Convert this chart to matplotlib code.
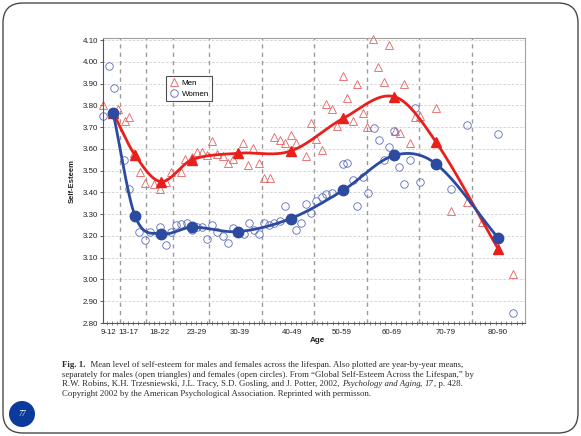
import numpy as np
import matplotlib
matplotlib.use("Agg")
import matplotlib.pyplot as plt
from matplotlib.patches import FancyBboxPatch, Circle
from matplotlib.lines import Line2D

# ---------------- data ----------------
group_labels = ["9-12", "13-17", "18-22", "23-29", "30-39", "40-49",
                "50-59", "60-69", "70-79", "80-90"]
label_ages = [10.4, 14.2, 20.1, 27.2, 35.3, 45.2, 54.8, 64.3, 74.4, 84.3]
group_bounds = [12.5, 17.5, 22.5, 29.5, 39.5, 49.5, 59.5, 69.5, 79.5]

mean_ages = [11.2, 15.4, 20.3, 26.2, 35.0, 45.0, 55.0, 64.7, 72.7, 84.5]
men_means = [3.765, 3.57, 3.45, 3.55, 3.58, 3.59, 3.74, 3.84, 3.63, 3.14]
women_means = [3.765, 3.29, 3.21, 3.24, 3.22, 3.28, 3.41, 3.57, 3.53, 3.19]

men_year_age = [9.3, 12.2, 13.5, 14.3, 15.2, 16.3, 17.3, 18.9, 20.1, 21.3, 22.2,
                24.2, 24.9, 26.2, 27.1, 28.2, 29.0, 30.1, 31.0, 32.1, 33.1, 34.1,
                36.0, 36.9, 37.9, 39.0, 39.9, 41.1, 41.8, 43.0, 43.9, 45.0, 46.1,
                47.9, 48.8, 49.9, 50.9, 51.8, 52.9, 53.9, 54.9, 55.8, 56.8, 57.7,
                58.7, 59.6, 60.7, 61.7, 62.8, 63.8, 64.8, 65.8, 66.6, 67.7, 68.7,
                69.7, 72.7, 75.5, 78.5, 81.5, 84.5, 87.4]
men_year_val = [3.80, 3.785, 3.73, 3.745, 3.58, 3.495, 3.445, 3.44, 3.415, 3.45, 3.495,
                3.495, 3.555, 3.563, 3.586, 3.586, 3.57, 3.635, 3.575, 3.566, 3.535, 3.555,
                3.625, 3.525, 3.606, 3.535, 3.467, 3.467, 3.655, 3.64, 3.625, 3.663, 3.625,
                3.566, 3.717, 3.645, 3.597, 3.805, 3.785, 3.704, 3.934, 3.836, 3.73, 3.896,
                3.766, 3.70, 4.105, 3.977, 3.905, 4.077, 3.683, 3.674, 3.896, 3.625, 3.747,
                3.75, 3.786, 3.313, 3.356, 3.264, 3.134, 3.026]

women_year_age = [9.3, 10.5, 11.4, 13.3, 14.3, 16.2, 17.3, 18.2, 20.1, 21.3, 22.3,
                  23.2, 24.2, 25.2, 26.2, 27.1, 28.1, 29.1, 30.1, 31.0, 32.1, 33.1,
                  34.1, 36.1, 37.1, 38.0, 39.0, 39.9, 40.9, 41.8, 43.0, 43.9, 46.0,
                  46.9, 47.9, 48.8, 49.8, 50.9, 51.8, 52.8, 54.9, 55.8, 56.8, 57.7,
                  58.7, 59.8, 60.9, 61.9, 62.8, 63.8, 64.7, 65.7, 66.6, 67.7, 68.7,
                  69.6, 75.5, 78.5, 84.5, 87.4]
women_year_val = [3.75, 3.98, 3.878, 3.548, 3.417, 3.218, 3.18, 3.218, 3.241, 3.157, 3.218,
                  3.249, 3.256, 3.26, 3.229, 3.241, 3.241, 3.187, 3.249, 3.218, 3.198, 3.167,
                  3.238, 3.207, 3.26, 3.229, 3.207, 3.26, 3.249, 3.26, 3.269, 3.336, 3.229,
                  3.26, 3.348, 3.305, 3.361, 3.379, 3.394, 3.398, 3.529, 3.536, 3.459, 3.338,
                  3.471, 3.398, 3.698, 3.64, 3.548, 3.609, 3.683, 3.517, 3.437, 3.548, 3.79,
                  3.448, 3.417, 3.709, 3.667, 2.845]

y_ticks = [2.80, 2.90, 3.00, 3.10, 3.20, 3.30, 3.40, 3.50, 3.60, 3.70, 3.80, 3.90, 4.00, 4.10]

caption_lines = [
    [("Fig. 1.", "normal", "bold"), ("  Mean level of self-esteem for males and females across the lifespan. Also plotted are year-by-year means,", "normal", "normal")],
    [("separately for males (open triangles) and females (open circles). From \u201cGlobal Self-Esteem Across the Lifespan,\u201d by", "normal", "normal")],
    [("R.W. Robins, K.H. Trzesniewski, J.L. Tracy, S.D. Gosling, and J. Potter, 2002, ", "normal", "normal"),
     ("Psychology and Aging", "italic", "normal"), (", ", "normal", "normal"),
     ("17", "italic", "normal"), (", p. 428.", "normal", "normal")],
    [("Copyright 2002 by the American Psychological Association. Reprinted with permisson.", "normal", "normal")],
]
page_number = "77"


def smooth_curve(xs, ys, n=40):
    xs = np.asarray(xs, float)
    ys = np.asarray(ys, float)
    m = np.empty_like(ys)
    m[1:-1] = (ys[2:] - ys[:-2]) / (xs[2:] - xs[:-2])
    m[0] = (ys[1] - ys[0]) / (xs[1] - xs[0])
    m[-1] = (ys[-1] - ys[-2]) / (xs[-1] - xs[-2])
    px, py = [], []
    t = np.linspace(0, 1, n)
    for i in range(len(xs) - 1):
        h = xs[i + 1] - xs[i]
        h00 = 2 * t**3 - 3 * t**2 + 1
        h10 = t**3 - 2 * t**2 + t
        h01 = -2 * t**3 + 3 * t**2
        h11 = t**3 - t**2
        py.append(h00 * ys[i] + h10 * h * m[i] + h01 * ys[i + 1] + h11 * h * m[i + 1])
        px.append(xs[i] + t * h)
    return np.concatenate(px), np.concatenate(py)


W, H = 581, 436
fig = plt.figure(figsize=(W / 100, H / 100), dpi=100)
fig.patch.set_facecolor("white")

# slide frame
frame = FancyBboxPatch((0.03, 0.03), W / 100 - 0.06, H / 100 - 0.06,
                       boxstyle="round,pad=0,rounding_size=0.2",
                       transform=fig.dpi_scale_trans, facecolor="none",
                       edgecolor="#4a4a4a", linewidth=1.0)
fig.patches.append(frame)

ax = fig.add_axes([103 / W, 1 - 323 / H, 422 / W, 284.7 / H])
ax.set_xlim(9.27, 89.6)
ax.set_ylim(2.80, 4.108)

red = "#e8201c"
blue = "#2c4a9f"

# grid
for yv in y_ticks[1:]:
    ax.axhline(yv, color="#cfcfcf", lw=0.6, ls=(0, (3, 2)), zorder=0)
for xb in group_bounds:
    ax.axvline(xb, color="#9a9a9a", lw=1.0, ls=(0, (3, 3)), zorder=0)

# year-by-year means
ax.plot(men_year_age, men_year_val, ls="none", marker="^", ms=5.4, mfc="none",
        mec="#e86060", mew=0.6, zorder=2, clip_on=False)
ax.plot(women_year_age, women_year_val, ls="none", marker="o", ms=5.4, mfc="none",
        mec="#5b6cb8", mew=0.6, zorder=2, clip_on=False)

# group means, smooth lines
mx, my = smooth_curve(mean_ages, men_means)
wx, wy = smooth_curve(mean_ages, women_means)
ax.plot(mx, my, color=red, lw=2.0, zorder=3, solid_capstyle="round")
ax.plot(wx, wy, color=blue, lw=2.0, zorder=3, solid_capstyle="round")
ax.plot(mean_ages, men_means, ls="none", marker="^", ms=7.5, color=red, zorder=4)
ax.plot(mean_ages, women_means, ls="none", marker="o", ms=7.5, color=blue, zorder=4)

# axes styling
for s in ["top", "right"]:
    ax.spines[s].set_color("#a0a0a0")
    ax.spines[s].set_linewidth(0.8)
for s in ["left", "bottom"]:
    ax.spines[s].set_color("#555555")
    ax.spines[s].set_linewidth(0.8)

ax.set_yticks(y_ticks)
ax.set_yticklabels([f"{v:.2f}" for v in y_ticks], fontsize=5.7,
                   family="Liberation Sans", color="#222222")
ax.tick_params(axis="y", direction="out", length=2, width=0.6, pad=1.5, colors="#444444")
ax.set_xticks(label_ages)
ax.set_xticklabels(group_labels, fontsize=5.7, family="Liberation Sans", color="#222222")
ax.tick_params(axis="x", which="major", length=0, pad=4)
ax.set_xticks(np.arange(10, 90, 1), minor=True)
ax.tick_params(axis="x", which="minor", direction="inout", length=2.5, width=0.5, colors="#555555")
for lab in ax.get_yticklabels() + ax.get_xticklabels():
    lab.set_color("#222222")

ax.text(-0.073, 0.5, "Self-Esteem", transform=ax.transAxes, rotation=90,
        ha="center", va="center", fontsize=5.5, fontweight="bold",
        family="Liberation Sans", color="#222222")
ax.text(0.509, -0.062, "Age", transform=ax.transAxes, ha="center", va="center",
        fontsize=5.8, fontweight="bold", family="Liberation Sans", color="#222222")

handles = [Line2D([], [], ls="none", marker="^", ms=5.4, mfc="none", mec="#e86060", mew=0.6),
           Line2D([], [], ls="none", marker="o", ms=5.4, mfc="none", mec="#5b6cb8", mew=0.6)]
leg = ax.legend(handles, ["Men", "Women"], loc="upper left",
                bbox_to_anchor=(0.149, 0.868), borderaxespad=0, frameon=True,
                fancybox=False, prop={"family": "Liberation Sans", "size": 5.8},
                handlelength=1.0, handletextpad=0.5, borderpad=0.45, labelspacing=0.35)
leg.get_frame().set_edgecolor("#222222")
leg.get_frame().set_linewidth(0.8)

# caption
renderer = fig.canvas.get_renderer()
line_y = [365, 374.5, 384, 393.5]
for segs, yp in zip(caption_lines, line_y):
    x = 62 / W
    for txt, style, weight in segs:
        t = fig.text(x, 1 - yp / H, txt, fontsize=6.3, family="Liberation Serif",
                     fontstyle=style, fontweight=weight, color="#2a2a2a",
                     ha="left", va="center")
        bb = t.get_window_extent(renderer)
        x = bb.x1 / W

# page number badge
badge = Circle((0.22, 0.22), 0.13, transform=fig.dpi_scale_trans,
               facecolor="#0b3a9c", edgecolor="none")
fig.patches.append(badge)
fig.text(22 / W, 1 - 414 / H, page_number, fontsize=5.5, color="white",
         fontstyle="italic", family="Liberation Serif", ha="center", va="center")

fig.savefig("out.png", dpi=100)
